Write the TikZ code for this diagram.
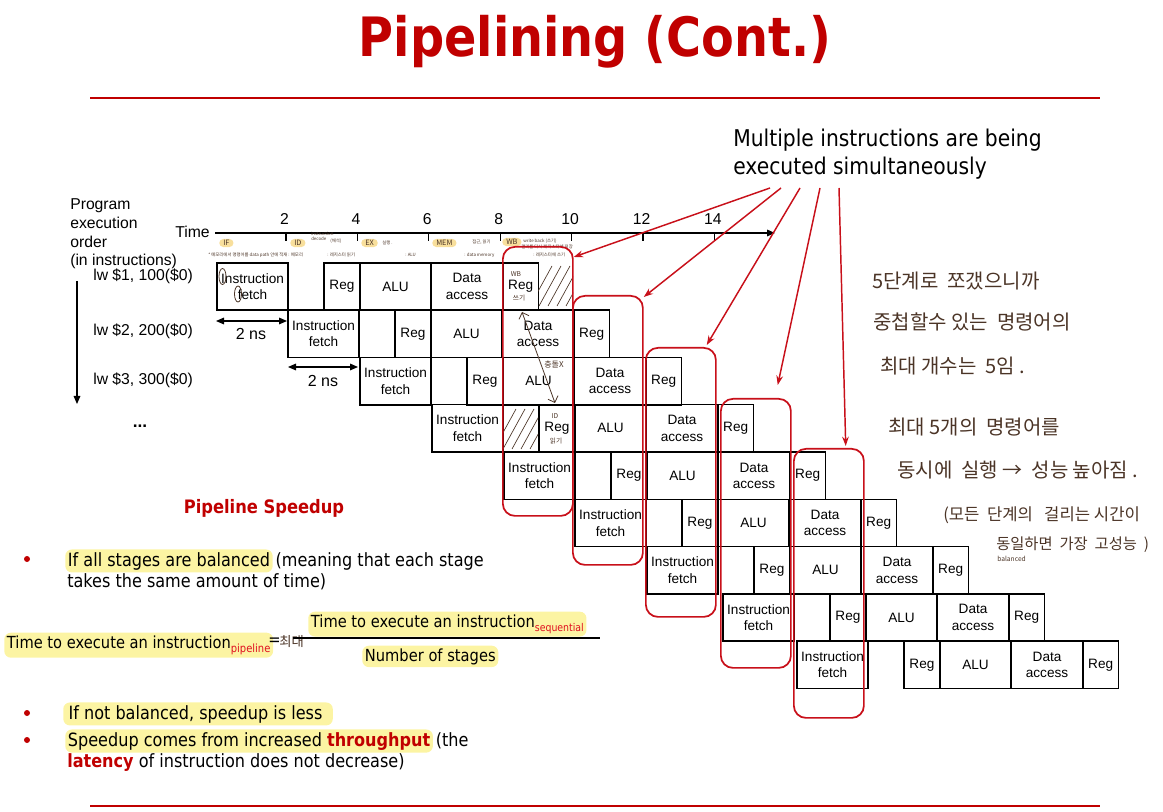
\documentclass[tikz,border=0pt]{standalone}
\usepackage{fontspec}
\setmainfont{Liberation Sans}
\newfontfamily\tah[FakeStretch=0.88]{DejaVu Sans}
\newfontfamily\kr{Noto Sans CJK KR}
\usetikzlibrary{arrows.meta}
\definecolor{dred}{HTML}{C00000}
\definecolor{gred}{HTML}{C8101A}
\definecolor{hl}{HTML}{FCF4A3}
\definecolor{pen}{HTML}{4B3426}
\definecolor{subred}{HTML}{E01020}
\definecolor{blob}{HTML}{F8DF9C}
\begin{document}
\begin{tikzpicture}[x=0.75pt,y=-0.75pt,
  stg/.style={draw, line width=1.2pt, inner sep=0pt, align=center, font=\fontsize{10.2}{12.4}\selectfont, anchor=north west, minimum height=35.5pt},
  w2/.style={minimum width=53.6pt},
  w1/.style={minimum width=26.8pt},
  grp/.style={draw=gred, line width=1.3pt, rounded corners=9pt, minimum width=52.5pt, minimum height=201.75pt, anchor=north west, inner sep=0pt},
  lab/.style={font=\fontsize{11.8}{14}\selectfont, inner sep=0pt, anchor=base west},
  tx/.style={font=\tah\fontsize{13.7}{16}\selectfont, inner sep=0pt, anchor=base west},
  fx/.style={font=\tah\fontsize{12.5}{14}\selectfont},
  hlt/.style={fill=hl, rounded corners=5pt, inner xsep=2pt, inner ysep=2pt},
  hand/.style={text=pen, font=\kr\fontsize{15}{18}\selectfont, inner sep=0pt, anchor=base west},
  tiny/.style={text=pen, font=\kr\fontsize{3.3}{3.8}\selectfont, inner sep=0pt, anchor=base west, align=left},
  tag/.style={text=pen, font=\kr\fontsize{5.5}{6}\selectfont, fill=blob, rounded corners=3pt, inner xsep=3pt, inner ysep=1pt, anchor=west},
  ptr/.style={draw=gred, line width=1.1pt, -{Stealth[length=7pt,width=5pt]}},
  blk/.style={line width=0.8pt, -{Triangle[length=6pt,width=5pt]}},
  dbl/.style={line width=0.8pt, {Triangle[length=6pt,width=5pt]}-{Triangle[length=6pt,width=5pt]}},
  bul/.style={fill=dred, circle, inner sep=0pt, minimum size=4.5pt},
]
\useasboundingbox (0,0) rectangle (1163,812);

% title and rules
\node[font=\tah\bfseries\fontsize{40.7}{44}\selectfont, text=dred, anchor=base, inner sep=0pt] (title) at (595,57) {Pipelining (Cont.)};
\coordinate (r1a) at (90,98); \coordinate (r1b) at (1100,98);
\coordinate (r2a) at (90,806); \coordinate (r2b) at (1100,806);
\draw[dred, line width=1.5pt] (r1a) -- (r1b);
\draw[dred, line width=1.5pt] (r2a) -- (r2b);

% multiple instructions text
\node[font=\tah\fontsize{17.3}{20}\selectfont, anchor=base west, inner sep=0pt] (mu1) at (733,147) {Multiple instructions are being};
\node[font=\tah\fontsize{17.3}{20}\selectfont, anchor=base west, inner sep=0pt] (mu2) at (733,175) {executed simultaneously};

% program order labels
\node[lab] (po1) at (70,210) {Program};
\node[lab] (po2) at (70,229) {execution};
\node[lab] (po3) at (70,248) {order};
\node[lab] (po4) at (70,266) {(in instructions)};
\node[lab] (time) at (175,238) {Time};

% time axis
\coordinate (ax0) at (215,233);
\coordinate (ax1) at (775,233);
\draw[blk] (ax0) -- (ax1);
\foreach \v/\x in {2/286,4/357.4,6/428.8,8/500.2,10/571.6,12/643,14/714.4}{
  \draw[line width=0.8pt] (\x,233) -- (\x,241);
  \node[font=\fontsize{11.8}{14}\selectfont, anchor=base, inner sep=0pt] (tk\v) at (\x-1.5,225) {\v};
}

% instruction labels
\node[lab] (lw1) at (93,281) {lw \$1, 100(\$0)};
\node[lab] (lw2) at (93,336) {lw \$2, 200(\$0)};
\node[lab] (lw3) at (93,385) {lw \$3, 300(\$0)};
\coordinate (va) at (77,281);
\coordinate (vb) at (77,404);
\draw[blk] (va) -- (vb);
\node[font=\bfseries\fontsize{13}{14}\selectfont, inner sep=0pt] (dots) at (140,426) {...};

% 2 ns markers
\coordinate (n1a) at (216,321); \coordinate (n1b) at (287,321);
\draw[dbl] (n1a) -- (n1b);
\node[font=\fontsize{12}{14}\selectfont, inner sep=0pt] (ns1) at (251,334) {2 ns};
\coordinate (n2a) at (288,367); \coordinate (n2b) at (358,367);
\draw[dbl] (n2a) -- (n2b);
\node[font=\fontsize{12}{14}\selectfont, inner sep=0pt] (ns2) at (323,381) {2 ns};

% pipeline rows
\foreach \k/\s in {0/216,1/287,2/359,3/431,4/503,5/574,6/646,7/722,8/796}{
  \pgfmathsetmacro{\ty}{262+47.3*\k}
  \node[stg,w2] (if\k) at (\s,\ty) {Instruction\\fetch};
  \node[stg,w1] (ra\k) at (\s+107.25,\ty) {Reg};
  \node[stg,w2] (alu\k) at (\s+143,\ty) {ALU};
  \node[stg,w2] (da\k) at (\s+214.5,\ty) {Data\\access};
  \node[stg,w1] (rb\k) at (\s+286,\ty) {Reg};
}

% hatches
\begin{scope}
  \clip (538,262) rectangle (573,308);
  \foreach \i in {0,...,4} \draw[pen, line width=0.5pt] (530+\i*9,306) -- (552+\i*9,266);
\end{scope}
\begin{scope}
  \clip (502,404) rectangle (538,451);
  \foreach \i in {0,...,4} \draw[pen, line width=0.5pt] (494+\i*9,449) -- (516+\i*9,409);
\end{scope}

% handwriting on boxes
\draw[pen, line width=0.6pt] (222.5,276.5) ellipse (3.5 and 8);
\draw[pen, line width=0.6pt] (238,294) ellipse (3.5 and 8);
\node[text=pen, font=\kr\fontsize{5}{6}\selectfont, inner sep=0pt] (wbn) at (516,274) {WB};
\node[text=pen, font=\kr\fontsize{5}{6}\selectfont, inner sep=0pt] (wbw) at (519,298) {쓰기};
\node[text=pen, font=\kr\fontsize{5}{6}\selectfont, inner sep=0pt] (idn) at (555,416) {ID};
\node[text=pen, font=\kr\fontsize{5}{6}\selectfont, inner sep=0pt] (idr) at (556,441) {읽기};
\node[text=pen, font=\kr\fontsize{6}{7}\selectfont, inner sep=0pt] (nc) at (554,364) {충돌X};
\coordinate (ca) at (522,312);
\coordinate (cb) at (555,403);
\draw[pen, line width=0.6pt, {Straight Barb[length=4pt]}-{Straight Barb[length=4pt]}] (ca) -- (cb);

% stage annotations
\node[tag] (tif) at (219,243) {IF};
\node[tiny] (tif2) at (208,257) {* 메모리에서 명령어를 data path 안에 적재 : 메모리};
\node[tag] (tid) at (290,243) {ID};
\node[tiny] (tid1) at (311,241) {instruction\\decode};
\node[tiny] (tid2) at (330,243) {(해석)};
\node[tiny] (tid3) at (327,257) {: 레지스터 읽기};
\node[tag] (tex) at (361,243) {EX};
\node[tiny] (tex1) at (382,245) {실행 .};
\node[tiny] (tex2) at (405,257) {: ALU};
\node[tag] (tme) at (432,243) {MEM};
\node[tiny] (tme1) at (472,244) {접근, 읽기};
\node[tiny] (tme2) at (464,257) {: data memory};
\node[tag] (twb) at (502,242) {WB};
\node[tiny] (twb1) at (523,243) {write back (쓰기)};
\node[tiny] (twb2) at (521,249) {결과를 다시 레지스터에 저장};
\node[tiny] (twb3) at (533,257) {: 레지스터에 쓰기};

% red group boxes
\node[grp] (g1) at (502,246) {};
\node[grp] (g2) at (572,295) {};
\node[grp] (g3) at (645,347) {};
\node[grp] (g4) at (720,398) {};
\node[grp] (g5) at (793,448) {};

\coordinate (s1) at (770,188);
\coordinate (s2) at (781,188);
\coordinate (s3) at (800,188);
\coordinate (s4) at (820,188);
\coordinate (s5) at (839,188);
\draw[ptr] (s1) -- ([shift={(0,11)}]g1.north east);
\draw[ptr] (s2) -- ([shift={(0,2)}]g2.north east);
\draw[ptr] (s3) -- ([shift={(-10,-2)}]g3.north east);
\draw[ptr] (s4) -- ([shift={(-14,-13)}]g4.north east);
\draw[ptr] (s5) -- ([shift={(-19,-2)}]g5.north east);

% Korean handwritten notes
\node[hand] (k1) at (872,289) {5단계로 \ 쪼갰으니까};
\node[hand] (k2) at (873,330) {중첩할수 있는 \ 명령어의};
\node[hand] (k3) at (880,374) {최대 개수는 \ 5임 .};
\node[hand] (k4) at (888,435) {최대 5개의 \ 명령어를};
\node[hand] (k5) at (897,477) {동시에 \ 실행 → \ 성능 높아짐 .};
\node[hand, font=\kr\fontsize{12.5}{15}\selectfont] (k6) at (943,520) {(모든 \ 단계의 \ \ 걸리는 시간이};
\node[hand, font=\kr\fontsize{11.5}{14}\selectfont] (k7) at (996,549) {동일하면 \ 가장 \ 고성능 \ )};
\node[hand, font=\kr\fontsize{5}{6}\selectfont] (k8) at (997,561) {balanced};

% Pipeline speedup section
\node[font=\tah\bfseries\fontsize{13.9}{16}\selectfont, text=dred, anchor=base, inner sep=0pt] (ps) at (264,513) {Pipeline Speedup};

\node[bul] (b1) at (27,559) {};
\node[tx, hlt] (l1a) at (65,566) {If all stages are balanced};
\node[tx] (l1b) at ([xshift=1.8pt]l1a.base east) {(meaning that each stage};
\node[tx] (l2) at (67,587) {takes the same amount of time)};

\node[tx, hlt, fx] (fl) at (4,648) {Time to execute an instruction\textcolor{subred}{\fontsize{8.5}{9}\selectfont\raisebox{-3.5pt}{pipeline}}};
\node[fx, anchor=base west, inner sep=0pt] (eq) at (268,645) {=};
\node[text=pen, font=\kr\fontsize{10}{12}\selectfont, anchor=base west, inner sep=0pt] (cd) at (279,646) {최대};
\coordinate (fa) at (293,638);
\coordinate (fb) at (600,638);
\draw[line width=0.9pt] (fa) -- (fb);
\node[tx, hlt, fx] (num) at (308,627) {Time to execute an instruction\textcolor{subred}{\fontsize{8}{9}\selectfont\raisebox{-3.5pt}{sequential}}};
\node[tx, hlt, fx] (den) at (362,661) {Number of stages};

\node[bul] (b2) at (27,713) {};
\node[tx, hlt, inner xsep=4pt] (l3) at (63,719) {If not balanced, speedup is less\ \ };
\node[bul] (b3) at (27,740) {};
\node[tx, hlt] (l4a) at (65,746) {Speedup comes from increased \textcolor{dred}{\bfseries throughput}};
\node[tx] (l4b) at ([xshift=1.8pt]l4a.base east) {(the};
\node[tx] (l5) at (67,767) {\textcolor{dred}{\bfseries latency} of instruction does not decrease)};
\end{tikzpicture}
\end{document}
